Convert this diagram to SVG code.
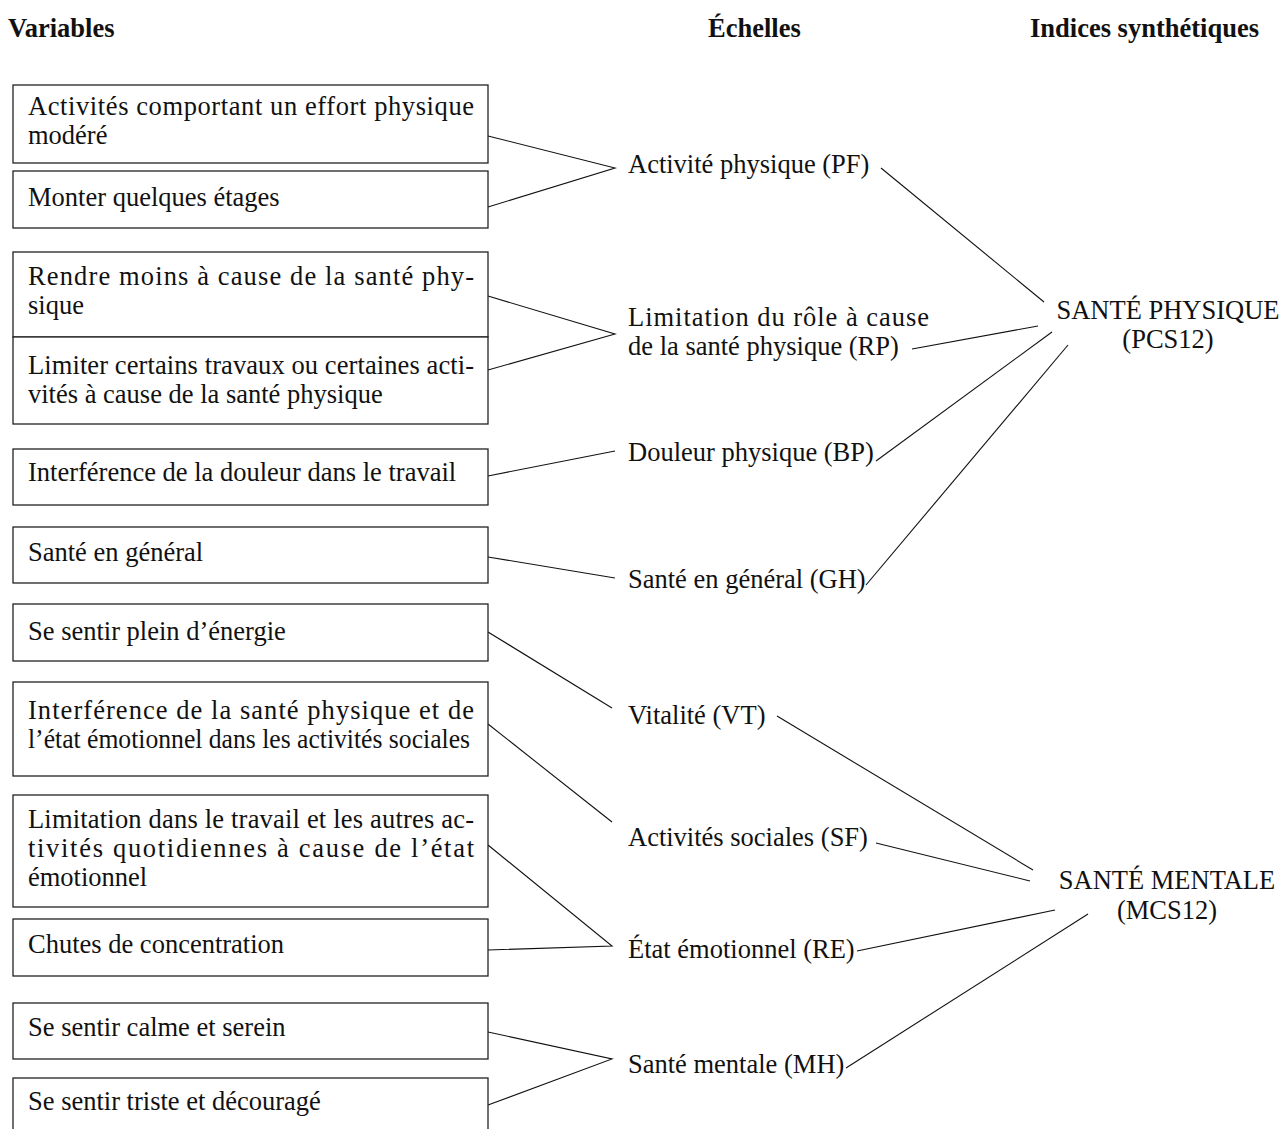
<svg xmlns="http://www.w3.org/2000/svg" width="1281" height="1129" viewBox="0 0 1281 1129">
<style>
text{font-family:"Liberation Serif","Times New Roman",serif;font-size:26.5px;fill:#111}
.h{font-weight:bold}
.box{fill:#fff;stroke:#222;stroke-width:1.3}
.ln{stroke:#111;stroke-width:1.1;fill:none}
</style>
<rect width="1281" height="1129" fill="#fff"/>
<g id="headers">
<text class="h" x="8" y="37">Variables</text>
<text class="h" x="708" y="37">Échelles</text>
<text class="h" x="1030" y="37">Indices synthétiques</text>
</g>
<g id="connectors">
<polyline class="ln" points="488,136 615,168 488,207"/>
<polyline class="ln" points="488,296 615,334 488,370"/>
<line class="ln" x1="488" y1="476" x2="615" y2="451"/>
<line class="ln" x1="488" y1="557" x2="615" y2="578"/>
<line class="ln" x1="488" y1="632" x2="612" y2="708"/>
<line class="ln" x1="488" y1="724" x2="612" y2="822"/>
<polyline class="ln" points="488,845 612,946 488,950"/>
<polyline class="ln" points="488,1032 612,1059 488,1105"/>
<line class="ln" x1="881" y1="168" x2="1044" y2="302"/>
<line class="ln" x1="912" y1="349" x2="1038" y2="326"/>
<line class="ln" x1="876" y1="461" x2="1052" y2="332"/>
<line class="ln" x1="866" y1="585" x2="1068" y2="345"/>
<line class="ln" x1="777" y1="716" x2="1033" y2="870"/>
<line class="ln" x1="876" y1="843" x2="1030" y2="881"/>
<line class="ln" x1="857" y1="951" x2="1055" y2="910"/>
<line class="ln" x1="846" y1="1068" x2="1088" y2="914"/>
</g>
<g id="v1"><rect class="box" x="13" y="85" width="475" height="78"/>
<text x="28" y="115" textLength="446" lengthAdjust="spacing">Activités comportant un effort physique</text>
<text x="28" y="144">modéré</text></g>
<g id="v2"><rect class="box" x="13" y="171" width="475" height="57"/>
<text x="28" y="206">Monter quelques étages</text></g>
<g id="v3"><rect class="box" x="13" y="252" width="475" height="85"/>
<text x="28" y="285" textLength="446" lengthAdjust="spacing">Rendre moins à cause de la santé phy-</text>
<text x="28" y="314">sique</text></g>
<g id="v4"><rect class="box" x="13" y="337" width="475" height="87"/>
<text x="28" y="374" textLength="446" lengthAdjust="spacing">Limiter certains travaux ou certaines acti-</text>
<text x="28" y="403">vités à cause de la santé physique</text></g>
<g id="v5"><rect class="box" x="13" y="449" width="475" height="56"/>
<text x="28" y="481">Interférence de la douleur dans le travail</text></g>
<g id="v6"><rect class="box" x="13" y="527" width="475" height="56"/>
<text x="28" y="561">Santé en général</text></g>
<g id="v7"><rect class="box" x="13" y="604" width="475" height="57"/>
<text x="28" y="640">Se sentir plein d’énergie</text></g>
<g id="v8"><rect class="box" x="13" y="682" width="475" height="94"/>
<text x="28" y="719" textLength="446" lengthAdjust="spacing">Interférence de la santé physique et de</text>
<text x="28" y="748" textLength="442" lengthAdjust="spacingAndGlyphs">l’état émotionnel dans les activités sociales</text></g>
<g id="v9"><rect class="box" x="13" y="795" width="475" height="112"/>
<text x="28" y="828" textLength="446" lengthAdjust="spacing">Limitation dans le travail et les autres ac-</text>
<text x="28" y="857" textLength="446" lengthAdjust="spacing">tivités quotidiennes à cause de l’état</text>
<text x="28" y="886">émotionnel</text></g>
<g id="v10"><rect class="box" x="13" y="919" width="475" height="57"/>
<text x="28" y="953">Chutes de concentration</text></g>
<g id="v11"><rect class="box" x="13" y="1003" width="475" height="56"/>
<text x="28" y="1036">Se sentir calme et serein</text></g>
<g id="v12"><rect class="box" x="13" y="1078" width="475" height="70"/>
<text x="28" y="1110">Se sentir triste et découragé</text></g>
<g id="s-pf"><text x="628" y="173">Activité physique (PF)</text></g>
<g id="s-rp"><text x="628" y="326" textLength="301" lengthAdjust="spacing">Limitation du rôle à cause</text>
<text x="628" y="355">de la santé physique (RP)</text></g>
<g id="s-bp"><text x="628" y="461">Douleur physique (BP)</text></g>
<g id="s-gh"><text x="628" y="588">Santé en général (GH)</text></g>
<g id="s-vt"><text x="628" y="724">Vitalité (VT)</text></g>
<g id="s-sf"><text x="628" y="846">Activités sociales (SF)</text></g>
<g id="s-re"><text x="628" y="958">État émotionnel (RE)</text></g>
<g id="s-mh"><text x="628" y="1073">Santé mentale (MH)</text></g>
<g id="pcs"><text x="1168" y="319" text-anchor="middle">SANTÉ PHYSIQUE</text>
<text x="1168" y="348" text-anchor="middle">(PCS12)</text></g>
<g id="mcs"><text x="1167" y="889" text-anchor="middle">SANTÉ MENTALE</text>
<text x="1167" y="919" text-anchor="middle">(MCS12)</text></g>
</svg>
